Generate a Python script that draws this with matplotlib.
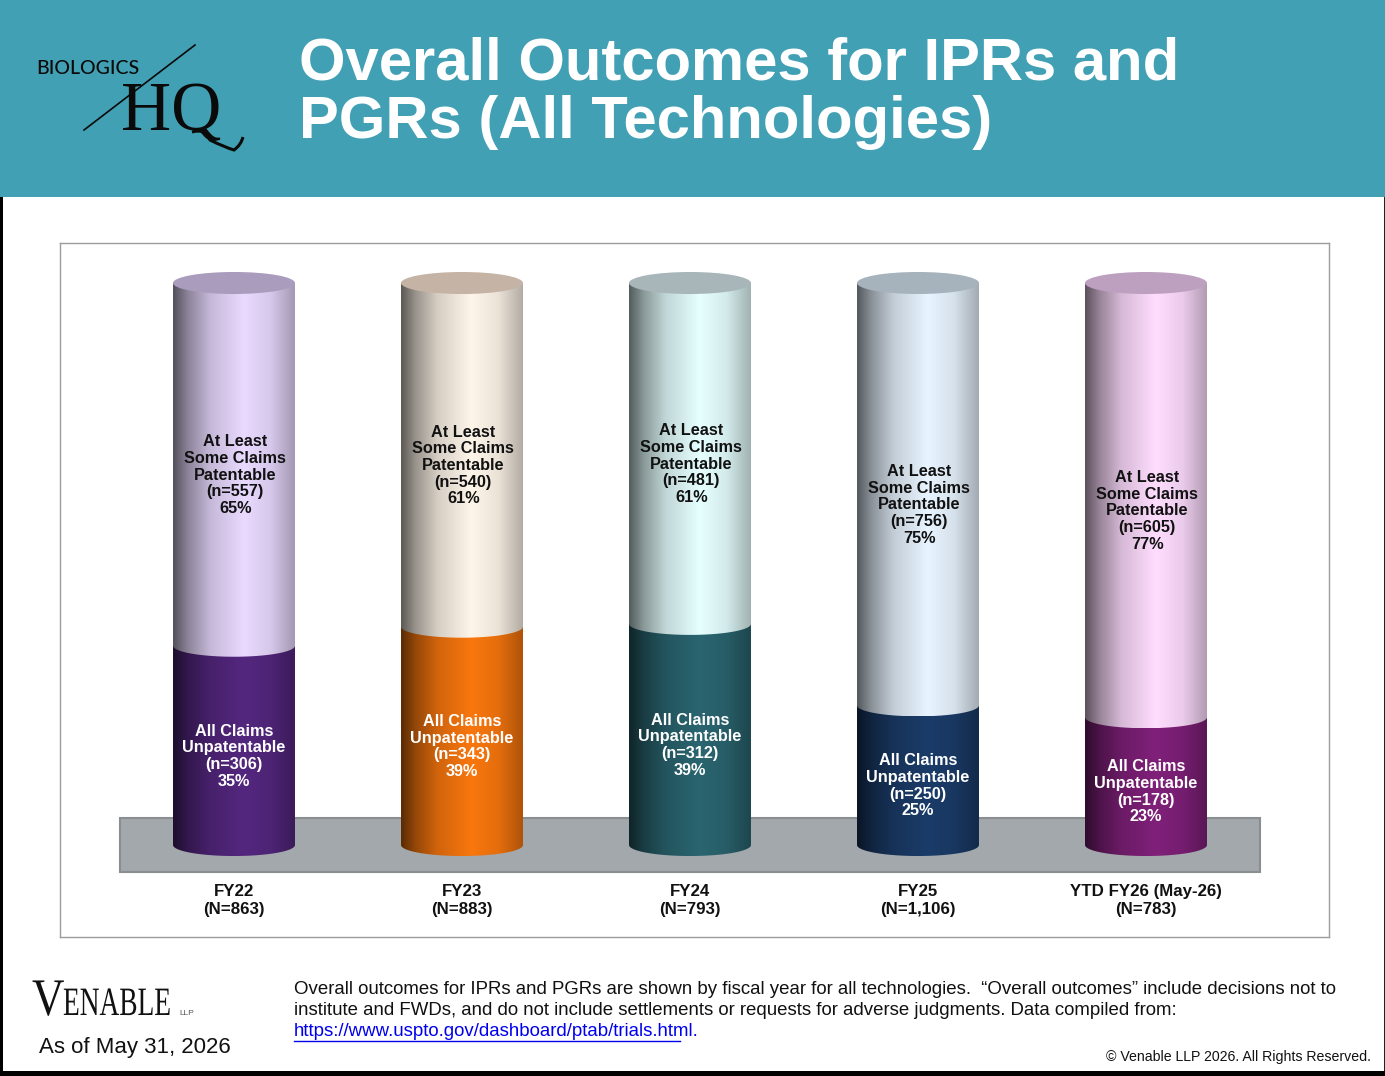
import numpy as np
import matplotlib
matplotlib.use("Agg")
import matplotlib.pyplot as plt
from matplotlib.colors import LinearSegmentedColormap, to_rgb
from matplotlib.patches import Ellipse, PathPatch, Rectangle
from matplotlib.path import Path
from matplotlib.patheffects import AbstractPathEffect
from matplotlib.transforms import Affine2D

plt.rcParams['font.family'] = ['Liberation Sans', 'DejaVu Sans']

# data
years = ["FY22\n(N=863)", "FY23\n(N=883)", "FY24\n(N=793)", "FY25\n(N=1,106)", "YTD FY26 (May-26)\n(N=783)"]
some_n = [557, 540, 481, 756, 605]
some_pct = [65, 61, 61, 75, 77]
none_n = [306, 343, 312, 250, 178]
none_pct = [35, 39, 39, 25, 23]

top_colors = ["#E9DAFF", "#FFF6EA", "#E6FFFF", "#E8F4FF", "#FFDDFF"]
low_colors = ["#54277F", "#F9770E", "#2A6570", "#1B3C69", "#80207A"]
lid_colors = ["#A99CBD", "#C5B4A6", "#A8B6BA", "#A6B2BC", "#BDA0C0"]

stops = [0, 0.12, 0.3, 0.58, 0.8, 1]
shade = [0.36, 0.60, 0.84, 1, 0.92, 0.70]

HALF_W = 0.2675   # cylinder half width, in category units
RIM = 1.96        # ellipse half height, in percent units


class Squeeze(AbstractPathEffect):
    # narrows a text around x0 (logo lettering is condensed)
    def __init__(self, x0, sx):
        super().__init__()
        self.x0 = x0
        self.sx = sx

    def draw_path(self, renderer, gc, tpath, affine, rgbFace=None):
        squeeze = Affine2D().translate(-self.x0, 0).scale(self.sx, 1).translate(self.x0, 0)
        renderer.draw_path(gc, tpath, affine + squeeze, rgbFace)


def shaded(color):
    r = np.array(to_rgb(color))
    return LinearSegmentedColormap.from_list("c", [(s, tuple(r * f)) for s, f in zip(stops, shade)])


def body_path(x, y0, y1):
    # side of the cylinder from y1 (flat top) down to y0 with a rounded front edge
    t = np.linspace(np.pi, 2 * np.pi, 60)
    xs = x + HALF_W * np.cos(t)
    ys = y0 + RIM * np.sin(t)
    verts = list(zip(xs, ys)) + [(x + HALF_W, y1), (x - HALF_W, y1), (xs[0], ys[0])]
    return Path(verts, [Path.MOVETO] + [Path.LINETO] * (len(verts) - 2) + [Path.CLOSEPOLY])


def draw_body(ax, x, y0, y1, color, zorder):
    grad = np.linspace(0, 1, 256).reshape(1, -1)
    im = ax.imshow(grad, cmap=shaded(color), aspect="auto", zorder=zorder,
                   extent=(x - HALF_W, x + HALF_W, y0 - RIM, y1), interpolation="bilinear")
    im.set_clip_path(PathPatch(body_path(x, y0, y1), transform=ax.transData))


fig = plt.figure(figsize=(13.85, 10.76), dpi=100, facecolor="white")

# page furniture in pixel coordinates
bg = fig.add_axes([0, 0, 1, 1], zorder=0)
bg.set_xlim(0, 1385)
bg.set_ylim(1076, 0)
bg.axis("off")
bg.add_patch(Rectangle((0, 197), 2.5, 879, color="black", lw=0))
bg.add_patch(Rectangle((1384, 197), 1, 879, color="#222222", lw=0))
bg.add_patch(Rectangle((0, 1071), 1385, 5, color="black", lw=0))
bg.add_patch(Rectangle((0, 0), 1385, 197, color="#42A0B5", lw=0))

bg.text(299, 64, "Overall Outcomes for IPRs and", color="white", fontsize=43, fontweight="bold", va="center")
bg.text(299, 122, "PGRs (All Technologies)", color="white", fontsize=43, fontweight="bold", va="center")

# logo
bg.text(36, 68, "BIOLOGICS", fontsize=14, family="Lato", color="#0a0a0a", va="center", fontweight="medium")
bg.plot([84, 195], [130, 45], color="#0a0a0a", lw=1.2)
bg.text(121, 130, "HQ", fontsize=50, family="Liberation Serif", color="#0a0a0a", va="baseline")
q_tail = Path([(192, 132), (205, 128), (210, 140), (224, 147), (234, 150), (241, 145), (243, 137)],
              [Path.MOVETO, Path.CURVE3, Path.CURVE3, Path.CURVE3, Path.CURVE3, Path.CURVE3, Path.CURVE3])
bg.add_patch(PathPatch(q_tail, fill=False, lw=2.2, edgecolor="#0a0a0a"))

v_txt = bg.text(32, 1015, "V", fontsize=38, family="Liberation Serif", color="#111111", va="baseline")
v_txt.set_path_effects([Squeeze(32, 0.85)])
e_txt = bg.text(63, 1015, "ENABLE", fontsize=29, family="Liberation Serif", color="#111111", va="baseline")
e_txt.set_path_effects([Squeeze(63, 0.68)])
bg.text(179, 1015, "LLP", fontsize=6, color="#555555", va="baseline")
bg.text(39, 1047, "As of May 31, 2026", fontsize=16, color="#111111", va="center")

foot = ["Overall outcomes for IPRs and PGRs are shown by fiscal year for all technologies.  \u201cOverall outcomes\u201d include decisions not to",
        "institute and FWDs, and do not include settlements or requests for adverse judgments. Data compiled from:"]
bg.text(294, 989, foot[0], fontsize=13.4, color="#111111", va="center")
bg.text(294, 1010.5, foot[1], fontsize=13.4, color="#111111", va="center")
bg.text(294, 1032, "https://www.uspto.gov/dashboard/ptab/trials.html.", fontsize=13.4, color="#0000EE", va="center")
bg.plot([294, 680], [1041, 1041], color="#0000EE", lw=1)
bg.text(1371, 1057, "\u00a9 Venable LLP 2026. All Rights Reserved.", fontsize=10.2, color="#111111", va="center", ha="right")

# chart axes: x in categories, y in percent of the bar
left, right, top, bottom = 59.5, 1328.5, 242.5, 936.5
ax = fig.add_axes([left / 1385, 1 - bottom / 1076, (right - left) / 1385, (bottom - top) / 1076], zorder=1)
ax.set_facecolor("white")
for s in ax.spines.values():
    s.set_color("#9c9c9c")
    s.set_linewidth(1)

ax.add_patch(Rectangle((-0.5, -4.8), 5, 9.6, facecolor="#A3A8AC", edgecolor="#8b8e90", lw=1.5, zorder=1))

totals = np.array(some_n) + np.array(none_n)
for i in range(len(years)):
    split = 100 * none_n[i] / totals[i]
    draw_body(ax, i, 0, split, low_colors[i], 2)
    draw_body(ax, i, split, 100, top_colors[i], 3)
    ax.add_patch(Ellipse((i, 100), 2 * HALF_W, 2 * RIM, facecolor=lid_colors[i], edgecolor="none", zorder=4))
    ax.text(i + 0.006, (split + 100) / 2 - 1.9,
            "At Least\nSome Claims\nPatentable\n(n=%d)\n%d%%" % (some_n[i], some_pct[i]),
            ha="center", va="center", fontsize=11.7, fontweight="bold", color="#111111", linespacing=1.14, zorder=5)
    ax.text(i, split / 2 - 1.9,
            "All Claims\nUnpatentable\n(n=%d)\n%d%%" % (none_n[i], none_pct[i]),
            ha="center", va="center", fontsize=11.7, fontweight="bold", color="white", linespacing=1.14, zorder=5)

ax.set_xlim((left - 234) / 228, (right - 234) / 228)
ax.set_ylim((845 - bottom) / 5.62, (845 - top) / 5.62)
ax.set_yticks([])
ax.set_xticks(range(len(years)))
ax.set_xticklabels(years, fontsize=12.2, fontweight="bold", color="#111111", linespacing=1.25)
ax.tick_params(axis="x", length=0, pad=-38)

fig.savefig("out.png", dpi=100)
